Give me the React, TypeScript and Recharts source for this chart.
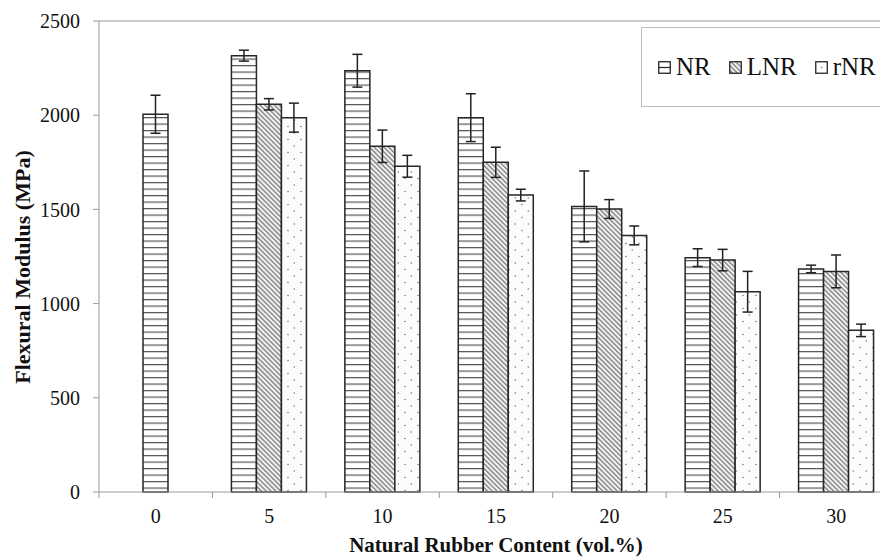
import React from 'react';
import { BarChart, Bar, XAxis, YAxis, ErrorBar, Legend, ReferenceLine } from 'recharts';

const categories = ['0', '5', '10', '15', '20', '25', '30'];
const nrValues = [2005, 2316, 2236, 1987, 1516, 1244, 1184];
const nrErrors = [101, 29, 87, 127, 188, 47, 20];
const lnrValues = [null, 2058, 1835, 1750, 1502, 1231, 1171];
const lnrErrors = [null, 30, 86, 80, 50, 57, 87];
const rnrValues = [null, 1987, 1729, 1576, 1362, 1063, 858];
const rnrErrors = [null, 77, 58, 31, 50, 108, 33];
const yTicks = [0, 500, 1000, 1500, 2000, 2500];
const seriesNames = ['NR', 'LNR', 'rNR'];

const data = categories.map((c, i) => {
  const alone = lnrValues[i] == null && rnrValues[i] == null;
  return {
    category: c,
    nr: alone ? null : nrValues[i],
    nrErr: alone ? null : nrErrors[i],
    nrAlone: alone ? nrValues[i] : null,
    nrAloneErr: alone ? nrErrors[i] : null,
    lnr: lnrValues[i],
    lnrErr: lnrErrors[i],
    rnr: rnrValues[i],
    rnrErr: rnrErrors[i],
  };
});

const FONT = 'Liberation Serif';
const AXIS = '#9a9a9a';
const TEXT = '#111111';
const EDGE = '#262626';

const XTick = (props: any) => {
  const { x, y, payload, index, visibleTicksCount } = props;
  const half = payload && payload.offset ? payload.offset : 0;
  const axisY = y - 17;
  const last = index === (visibleTicksCount ?? categories.length) - 1;
  return (
    <g>
      <line x1={x - half} x2={x - half} y1={axisY} y2={axisY + 6} stroke={AXIS} strokeWidth={1} />
      {last && <line x1={x + half} x2={x + half} y1={axisY} y2={axisY + 6} stroke={AXIS} strokeWidth={1} />}
      <text x={x} y={y} dy="0.71em" textAnchor="middle" fontSize={20} fill={TEXT} style={{ fontFamily: FONT }}>
        {payload.value}
      </text>
    </g>
  );
};

const YTick = (props: any) => {
  const { x, y, payload } = props;
  return (
    <text x={x} y={y} dy="0.355em" textAnchor="end" fontSize={20} fill={TEXT} style={{ fontFamily: FONT }}>
      {payload.value}
    </text>
  );
};

const LegendIcon = ({ name }: { name: string }) => (
  <svg width={13} height={13} style={{ display: 'block' }}>
    {name === 'NR' && (
      <g>
        <rect x={0.75} y={0.75} width={11.5} height={11.5} fill="#fff" stroke={EDGE} strokeWidth={1.3} />
        <line x1={0.75} x2={12.25} y1={6.5} y2={6.5} stroke={EDGE} strokeWidth={1.2} />
      </g>
    )}
    {name === 'LNR' && (
      <rect x={0.75} y={0.75} width={11.5} height={11.5} fill="url(#pLNR)" stroke={EDGE} strokeWidth={1.3} />
    )}
    {name === 'rNR' && (
      <g>
        <rect x={0.75} y={0.75} width={11.5} height={11.5} fill="#fff" stroke={EDGE} strokeWidth={1.3} />
        <circle cx={6.5} cy={6.5} r={0.8} fill="#777" />
      </g>
    )}
  </svg>
);

const LegendBox = () => (
  <div
    style={{
      boxSizing: 'border-box',
      width: 260,
      height: 80,
      border: '1.5px solid #bdbdbd',
      background: '#fff',
      display: 'flex',
      alignItems: 'center',
      paddingLeft: 16,
      fontFamily: FONT,
      fontSize: 25,
      color: TEXT,
    }}
  >
    {seriesNames.map((n, i) => (
      <div key={n} style={{ display: 'flex', alignItems: 'center', marginRight: i < 2 ? 18 : 0 }}>
        <LegendIcon name={n} />
        <span style={{ marginLeft: 5, lineHeight: '26px' }}>{n}</span>
      </div>
    ))}
  </div>
);

export default function App() {
  return (
    <div
      style={{
        marginLeft: -8,
        marginTop: -8,
        width: 888,
        height: 557,
        overflow: 'hidden',
        position: 'relative',
        background: '#fff',
        fontFamily: FONT,
      }}
    >
      <BarChart
        width={900}
        height={557}
        data={data}
        margin={{ top: 21, right: 7, left: 0, bottom: 0 }}
        barGap={0}
        style={{ fontFamily: FONT }}
      >
        <defs>
          <pattern id="pNR" patternUnits="userSpaceOnUse" width="8" height="6.5">
            <rect width="8" height="6.5" fill="#ffffff" />
            <line x1="0" x2="8" y1="0.6" y2="0.6" stroke="#555" strokeWidth="1.2" />
          </pattern>
          <pattern id="pLNR" patternUnits="userSpaceOnUse" width="3.4" height="3.4" patternTransform="rotate(-45)">
            <rect width="3.4" height="3.4" fill="#f4f4f4" />
            <rect width="1.5" height="3.4" fill="#8a8a8a" />
          </pattern>
          <pattern id="pRNR" patternUnits="userSpaceOnUse" width="13" height="13">
            <rect width="13" height="13" fill="#fcfcfc" />
            <circle cx="8.3" cy="3" r="0.8" fill="#7a7a7a" />
            <circle cx="2" cy="9.5" r="0.8" fill="#7a7a7a" />
          </pattern>
        </defs>
        <XAxis
          dataKey="category"
          height={65}
          axisLine={{ stroke: AXIS, strokeWidth: 1 }}
          tickLine={false}
          tickSize={6}
          tickMargin={11}
          tick={<XTick />}
          interval={0}
          label={{
            content: (p: any) => {
              const vb = p.viewBox || { x: 99, width: 794 };
              return (
                <text x={vb.x + vb.width / 2} y={552} textAnchor="middle" fontSize={21} fontWeight="bold" fill={TEXT} style={{ fontFamily: FONT }}>
                  Natural Rubber Content (vol.%)
                </text>
              );
            },
          }}
        />
        <YAxis
          width={99}
          domain={[0, 2500]}
          ticks={yTicks}
          interval={0}
          axisLine={{ stroke: AXIS, strokeWidth: 1 }}
          tickLine={{ stroke: AXIS, strokeWidth: 1 }}
          tickSize={6}
          tickMargin={13}
          tick={<YTick />}
          label={{
            content: () => (
              <text
                x={22}
                y={267}
                transform="rotate(-90 22 267)"
                textAnchor="middle"
                dominantBaseline="central"
                fontSize={22}
                fontWeight="bold"
                fill={TEXT}
                style={{ fontFamily: FONT }}
              >
                Flexural Modulus (MPa)
              </text>
            ),
          }}
        />
        <ReferenceLine y={2500} stroke={AXIS} strokeWidth={1} />
        <Bar dataKey="nr" name="NR" stackId="a" barSize={25} fill="url(#pNR)" stroke={EDGE} strokeWidth={1.5} isAnimationActive={false}>
          <ErrorBar dataKey="nrErr" width={5} stroke="#222" strokeWidth={1.5} />
        </Bar>
        <Bar dataKey="lnr" name="LNR" stackId="b" barSize={25} fill="url(#pLNR)" stroke={EDGE} strokeWidth={1.5} isAnimationActive={false}>
          <ErrorBar dataKey="lnrErr" width={5} stroke="#222" strokeWidth={1.5} />
        </Bar>
        <Bar dataKey="nrAlone" name="NR " stackId="b" barSize={25} fill="url(#pNR)" stroke={EDGE} strokeWidth={1.5} isAnimationActive={false} legendType="none">
          <ErrorBar dataKey="nrAloneErr" width={5} stroke="#222" strokeWidth={1.5} />
        </Bar>
        <Bar dataKey="rnr" name="rNR" stackId="c" barSize={25} fill="url(#pRNR)" stroke={EDGE} strokeWidth={1.5} isAnimationActive={false}>
          <ErrorBar dataKey="rnrErr" width={5} stroke="#222" strokeWidth={1.5} />
        </Bar>
        <Legend
          layout="vertical"
          align="center"
          verticalAlign="middle"
          wrapperStyle={{ left: 641, top: 27, width: 260, height: 80 }}
          content={() => <LegendBox />}
        />
      </BarChart>
    </div>
  );
}
